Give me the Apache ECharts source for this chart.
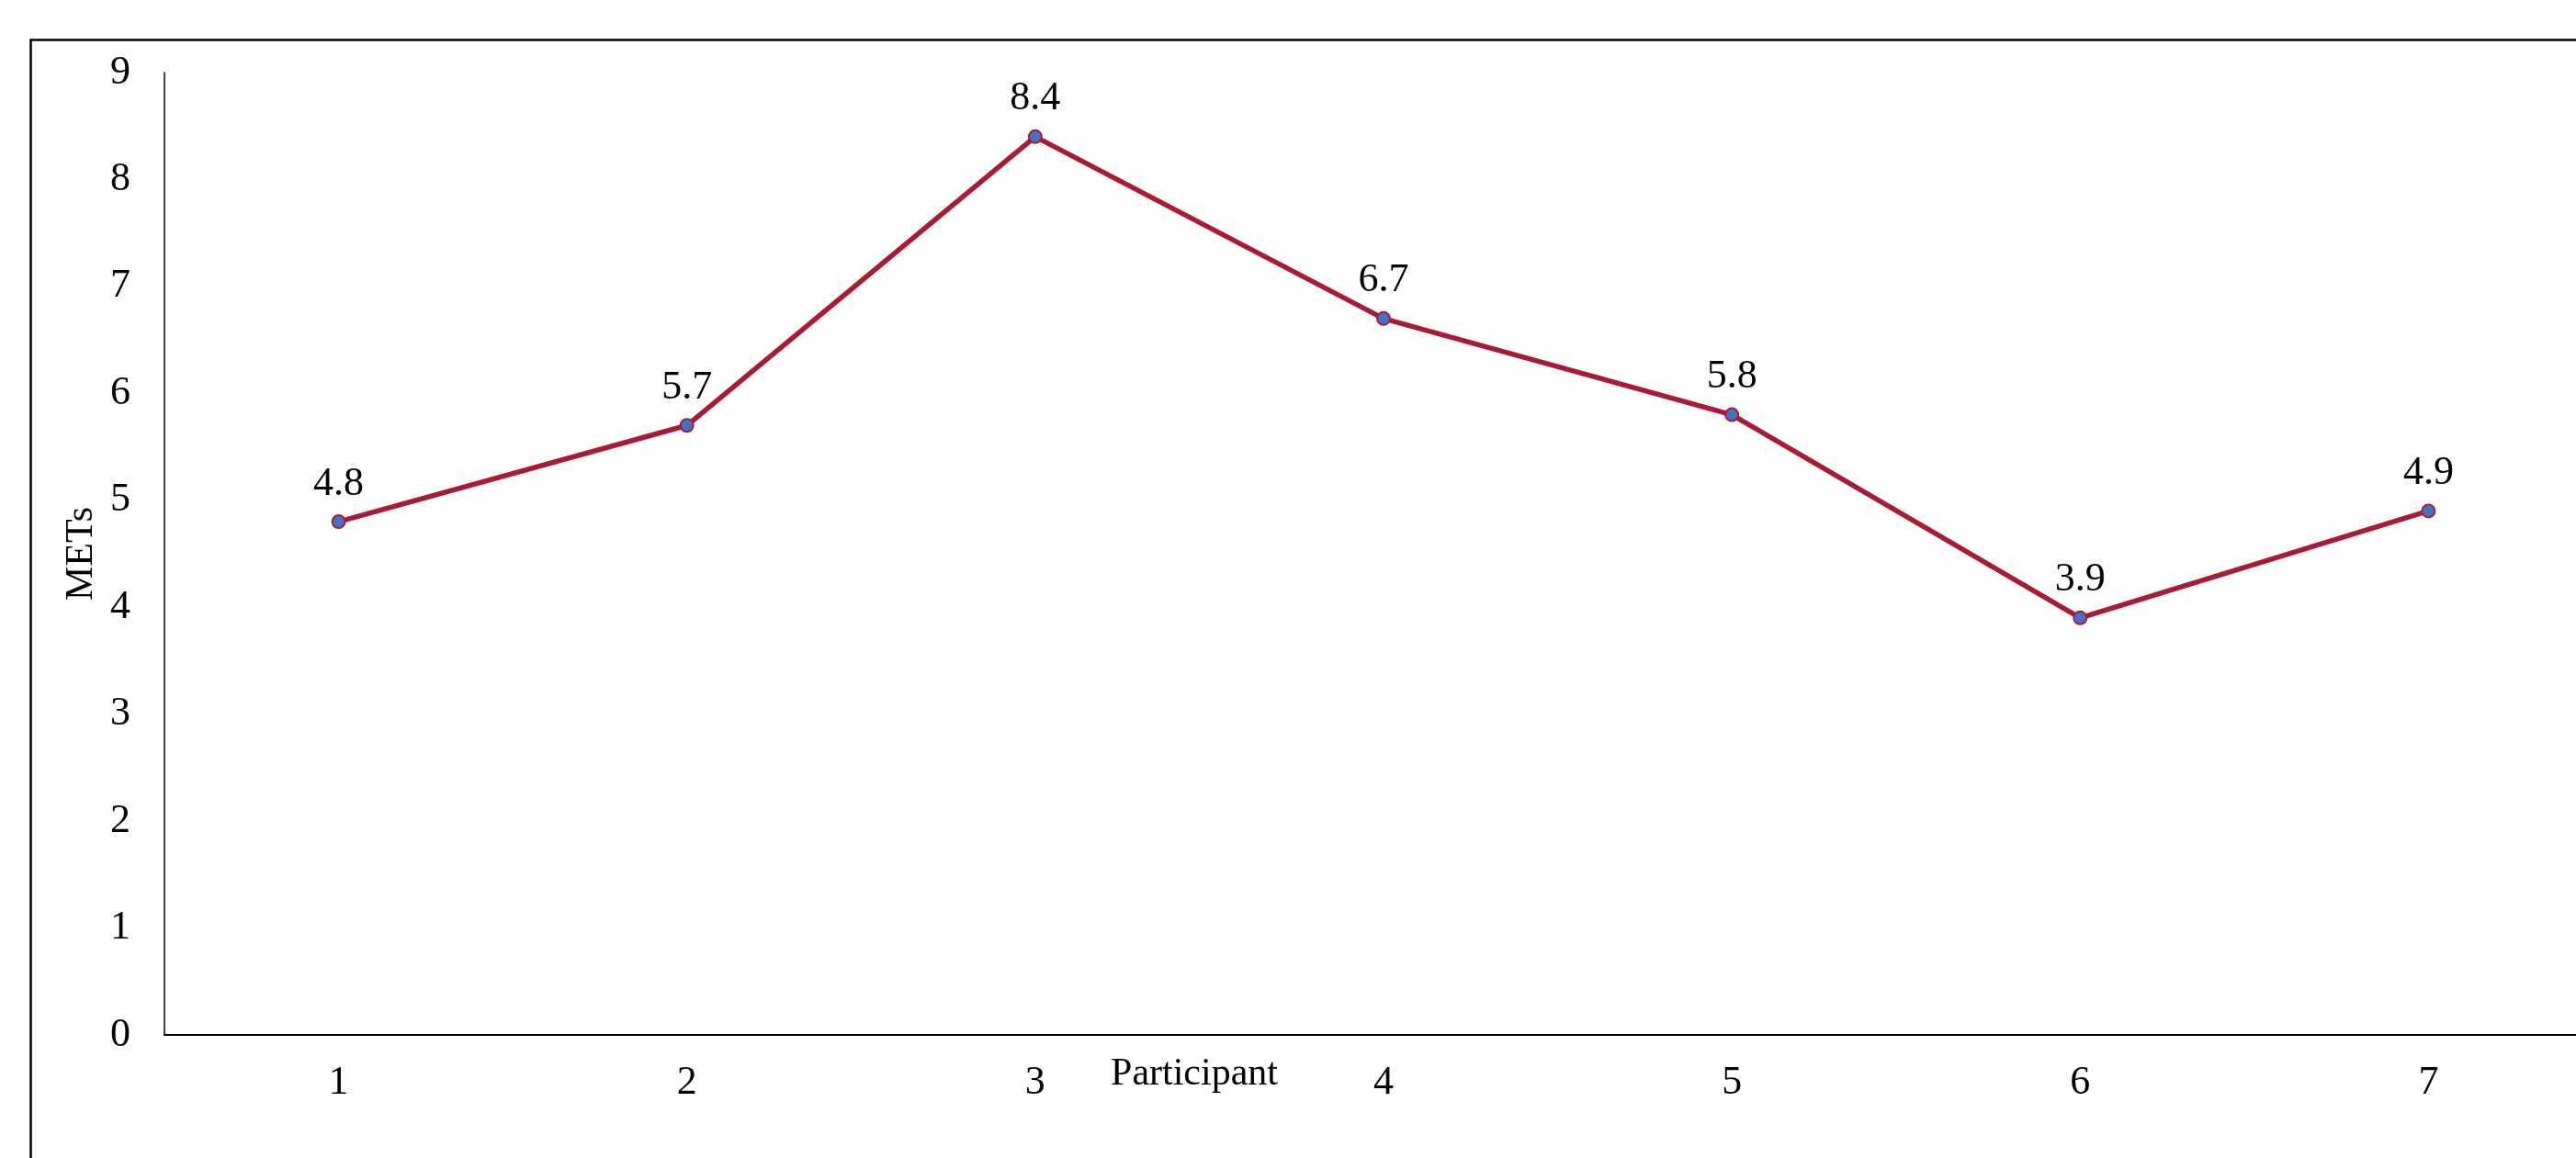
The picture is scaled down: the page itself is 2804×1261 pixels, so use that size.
<!DOCTYPE html>
<html>
<head>
<meta charset="utf-8">
<script src="https://cdn.jsdelivr.net/npm/echarts@6/dist/echarts.min.js"></script>
<style>
html,body{margin:0;padding:0;background:#fff;overflow:hidden;}
#chart{width:2833px;height:1261px;}
</style>
</head>
<body>
<div id="chart"></div>
<script>
const participants = ['1','2','3','4','5','6','7'];
const mets = [4.8, 5.7, 8.4, 6.7, 5.8, 3.9, 4.9];
const yTicks = [0,1,2,3,4,5,6,7,8,9];

const FONT = '"Liberation Serif", "Times New Roman", serif';
const chart = echarts.init(document.getElementById('chart'));
chart.setOption({
  backgroundColor: '#ffffff',
  animation: false,
  graphic: [{
    type: 'rect',
    left: 31, top: 41,
    shape: {width: 3000, height: 2000},
    style: {fill: 'none', stroke: '#000', lineWidth: 2.5},
    silent: true, z: 0
  }],
  grid: {left: 179, top: 79, bottom: 134, right: 0, containLabel: false},
  xAxis: {
    type: 'category',
    data: participants,
    boundaryGap: true,
    name: 'Participant',
    nameLocation: 'middle',
    nameGap: 22,
    nameMoveOverlap: false,
    nameTextStyle: {fontFamily: FONT, fontSize: 42, color: '#000', padding: [0, 412, 0, 0]},
    axisLine: {lineStyle: {color: '#000', width: 2}},
    axisTick: {show: false},
    axisLabel: {fontFamily: FONT, fontSize: 44, color: '#000', margin: 30},
    splitLine: {show: false}
  },
  yAxis: {
    type: 'value',
    min: 0, max: 9, interval: 1,
    name: 'METs',
    nameLocation: 'middle',
    nameGap: 69,
    nameMoveOverlap: false,
    nameTextStyle: {fontFamily: FONT, fontSize: 42, color: '#000'},
    axisLine: {show: true, lineStyle: {color: '#000', width: 1.5}},
    axisTick: {show: false},
    axisLabel: {fontFamily: FONT, fontSize: 44, color: '#000', margin: 37, padding: [6, 0, 0, 0],
      formatter: v => yTicks.includes(v) ? String(v) : ''},
    splitLine: {show: false}
  },
  series: [{
    type: 'line',
    data: mets,
    symbol: 'circle',
    symbolSize: 14,
    lineStyle: {color: '#A81A36', width: 5.5},
    itemStyle: {color: '#4472C4', borderColor: '#A81A36', borderWidth: 2},
    label: {show: true, position: 'top', distance: 11, fontFamily: FONT, fontSize: 44, color: '#000'}
  }]
});
</script>
</body>
</html>
